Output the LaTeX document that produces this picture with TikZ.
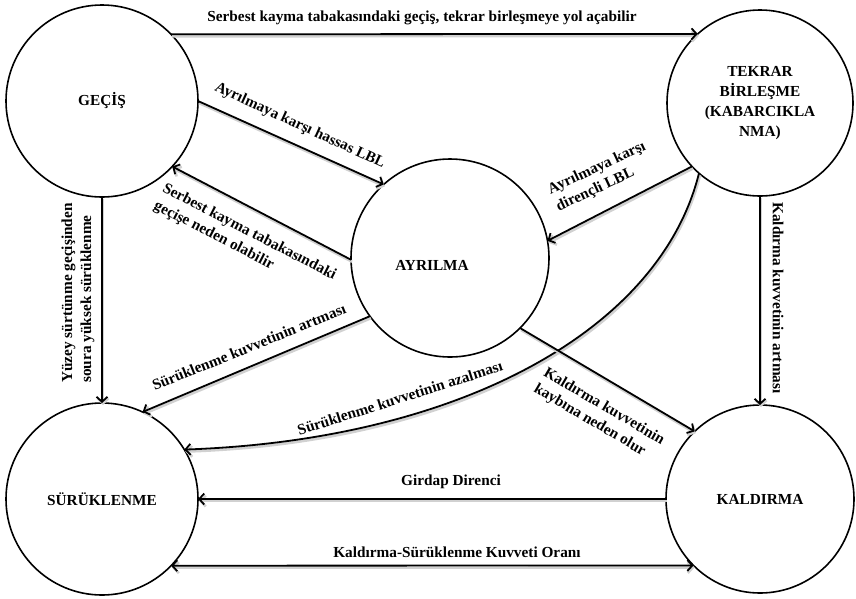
\documentclass[tikz,border=0pt]{standalone}
\usepackage{fontspec}
\setmainfont{Liberation Serif}
\usetikzlibrary{arrows.meta}
\begin{document}
\begin{tikzpicture}[x=1pt,y=-1pt,
  >={Straight Barb[length=5pt,width=11pt]},
  circ/.style={circle, draw, line width=1.6pt, inner sep=0pt, outer sep=0pt,
    font=\bfseries\fontsize{15.3}{20}\selectfont, align=center},
  conn/.style={line width=1.8pt,
    preaction={draw=black!18, line width=2.6pt, transform canvas={shift={(1pt,-2pt)}}}},
  lab/.style={font=\bfseries\fontsize{15.3}{19}\selectfont, inner sep=0pt, align=left, anchor=center},
]
\useasboundingbox (0,0) rectangle (856,598);

% circles
\node[circ, minimum size=192pt] (G) at (102,101) {GEÇİŞ};
\node[circ, minimum size=186pt] (T) at (760,103) {TEKRAR\\BİRLEŞME\\(KABARCIKLA\\NMA)};
\node[circ, minimum size=198pt] (A) at (450,258) {};
\node[font=\bfseries\fontsize{15.3}{20}\selectfont, inner sep=0pt] (At) at (432,265) {AYRILMA};
\node[circ, minimum size=192pt] (S) at (102,499) {SÜRÜKLENME};
\node[circ, minimum size=188pt] (K) at (760,499) {KALDIRMA};

% connectors
\draw[conn,->] (G.44) -- (T.132.4);
\draw[conn,->] (G.0) -- (A.132);
\draw[conn,->] (A.181) -- (G.-43);
\draw[conn,->] (T.223.7) -- (A.10.7);
\draw[conn,->] (T.229.5) .. controls (660,330) and (460,440) .. (S.31);
\draw[conn,->] (G.south) -- (S.north);
\draw[conn,->] (T.south) -- (K.north);
\draw[conn,->] (A.216.9) -- (S.65);
\draw[conn,->] (A.-45.4) -- (K.134.2);
\draw[conn,->] (K.west) -- (S.east);
\draw[conn,<->] (S.-44.3) -- (K.225.5);

% labels
\node[lab] (l1) at (422,18) {Serbest kayma tabakasındaki geçiş, tekrar birleşmeye yol açabilir};
\node[lab, rotate=-24.7] (l2) at (300,126) {Ayrılmaya karşı hassas LBL};
\node[lab, rotate=-27.2] (l3) at (245,241) {Serbest kayma tabakasındaki\\geçişe neden olabilir};
\node[lab, rotate=25] (l4) at (601,177) {Ayrılmaya karşı\\dirençli LBL};
\node[lab, rotate=17.6] (l5) at (400,398) {Sürüklenme kuvvetinin azalması};
\node[lab, rotate=90] (l6) at (78,293) {Yüzey sürtünme geçişinden\\soura yüksek sürüklenme};
\node[lab, rotate=-90] (l7) at (778,298) {Kaldırma kuvvetinin artması};
\node[lab, rotate=22] (l8) at (249,347) {Sürüklenme kuvvetinin artması};
\node[lab, rotate=-30.5] (l9) at (599,415) {Kaldırma kuvvetinin\\kaybına neden olur};
\node[lab] (l10) at (451,482) {Girdap Direnci};
\node[lab] (l11) at (457,552) {Kaldırma-Sürüklenme Kuvveti Oranı};
\end{tikzpicture}
\end{document}
